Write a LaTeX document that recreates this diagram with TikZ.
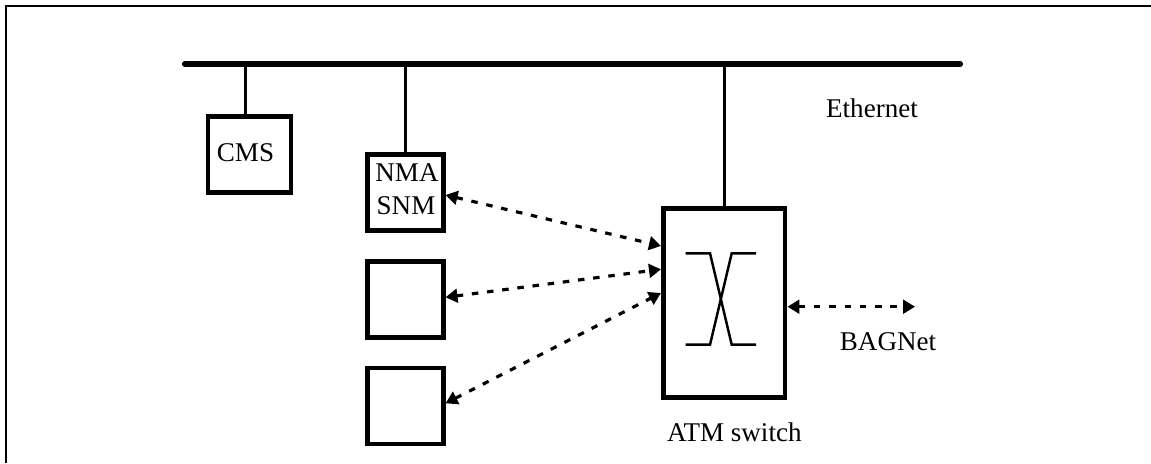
\documentclass[tikz,border=0pt]{standalone}
\usepackage{fontspec}
\setmainfont{Liberation Serif}
\usepackage{tikz}
\usetikzlibrary{calc,arrows.meta}
\tikzset{
  label/.style={font=\fontsize{15.4}{18}\selectfont,inner sep=0pt,align=center},
  hostbox/.style={draw,line width=2.6pt,minimum width=1.52cm,minimum height=1.52cm,inner sep=0pt},
  stem/.style={line width=1.4pt},
  dotted link/.style={line width=1.8pt,dash pattern=on 3.7pt off 5pt,{Triangle[length=6.8pt,width=7.8pt]}-{Triangle[length=6.8pt,width=7.8pt]}}
}
\begin{document}
\begin{tikzpicture}[x=0.02cm,y=-0.02cm]
       \useasboundingbox(0,0)rectangle(1151,463);
       \coordinate(FL)at(6,463);%枠 左下
       \coordinate(FO)at(6,6);%枠 左上
       \coordinate(FR)at(1151,6);%枠 右上
       \draw[line width=1.2pt](FL)--(FO)--(FR);%枠

       \coordinate(BS)at(185,64);%バス 左端
       \coordinate(BL)at(960,64);%バス 右端
       \draw[line width=3.5pt,line cap=round](BS)--(BL);%バス

       \node[hostbox,minimum width=1.66cm](cms)at(249.5,154.7){};
       \node[hostbox](nma)at(405.3,192.7){};
       \node[hostbox](hostB)at(405.3,299.3){};
       \node[hostbox](hostC)at(405.3,405.8){};
       \node[hostbox,minimum width=2.44cm,minimum height=3.79cm](atm)at(724.2,303){};

       \coordinate(TC)at(245.5,64);%CMS
       \coordinate(TN)at(405.7,64);%NMA
       \coordinate(TA)at(724.3,64);%ATM
       \draw[stem](TC)--(TC|-cms.north);
       \draw[stem](TN)--(TN|-nma.north);
       \draw[stem](TA)--(TA|-atm.north);

       \coordinate(PA)at(atm.west|-0,246);%ポート
       \coordinate(PB)at(atm.west|-0,269.3);
       \coordinate(PC)at(atm.west|-0,293);
       \coordinate(NE)at(915,306.7);%BAGNet 右端
       \draw[dotted link]($(nma.east)+(0,2.3)$)--(PA);
       \draw[dotted link]($(hostB.east)+(0,-2)$)--(PB);
       \draw[dotted link]($(hostC.east)+(0,-2.5)$)--(PC);
       \draw[dotted link](atm.east|-NE)--(NE);

       \draw[stem](685.7,253.3)--(710,253.3)--(731.7,344.7)--(756,344.7);%スイッチ
       \draw[stem](685.7,344.7)--(710,344.7)--(731.7,253.3)--(756,253.3);

       \node[label](cmslabel)at(245.5,153){CMS};
       \node[label](nmalabel)at(407,173){NMA};
       \node[label](snmlabel)at(406,205.5){SNM};
       \node[label](ethernet)at(872,108.5){Ethernet};
       \node[label](bagnet)at(888,342){BAGNet};
       \node[label](atmlabel)at(734.3,432){ATM switch};
\end{tikzpicture}
\end{document}
